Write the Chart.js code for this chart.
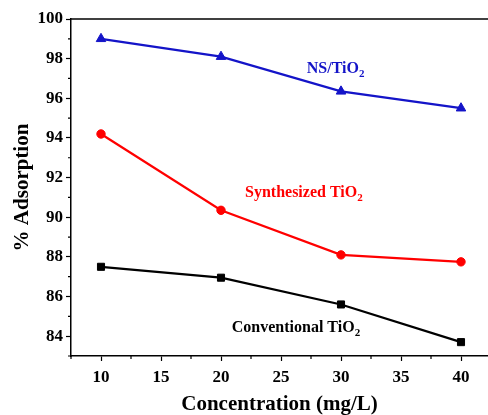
<!DOCTYPE html>
<html><head><meta charset="utf-8">
<script src="https://cdn.jsdelivr.net/npm/chart.js@4/dist/chart.umd.min.js"></script>
<style>html,body{margin:0;padding:0;background:#fff;overflow:hidden}#wrap{width:488px;height:415px;position:relative}</style>
</head><body><div id="wrap"><canvas id="c" width="488" height="415"></canvas></div>
<script>
const concentrations = [10, 20, 30, 40];
const nsTiO2 = [99.0, 98.1, 96.35, 95.5];
const synthesizedTiO2 = [94.2, 90.35, 88.1, 87.75];
const conventionalTiO2 = [87.5, 86.95, 85.6, 83.7];
const xTickLabels = [10, 15, 20, 25, 30, 35, 40];
const yTickLabels = [84, 86, 88, 90, 92, 94, 96, 98, 100];
const xMinorTicks = [7.5, 12.5, 17.5, 22.5, 27.5, 32.5, 37.5, 42.5];
const yMinorTicks = [83, 85, 87, 89, 91, 93, 95, 97, 99];
const seriesNames = ['NS/TiO', 'Synthesized TiO', 'Conventional TiO'];
const labelPos = [[27.15, 97.27], [22.0, 91.0], [20.9, 84.2]];

const FONT = '"Liberation Serif", "Times New Roman", serif';
const pts = arr => concentrations.map((x, i) => ({x, y: arr[i]}));

const extras = {
  id: 'extras',
  afterDraw(chart) {
    const {ctx, chartArea: a, scales: {x, y}} = chart;
    ctx.save();
    ctx.strokeStyle = '#000';
    ctx.lineWidth = 1.5;
    ctx.beginPath();
    ctx.moveTo(a.left, a.top); ctx.lineTo(a.right, a.top);
    ctx.stroke();
    ctx.lineWidth = 1.2;
    ctx.beginPath();
    xMinorTicks.forEach(v => { if (v >= x.min && v <= x.max) { const px = x.getPixelForValue(v); ctx.moveTo(px, a.bottom); ctx.lineTo(px, a.bottom + 3); } });
    yMinorTicks.forEach(v => { const py = y.getPixelForValue(v); ctx.moveTo(a.left, py); ctx.lineTo(a.left - 3, py); });
    ctx.stroke();
    const colors = ['#1414c8', '#ff0000', '#000000'];
    seriesNames.forEach((t, i) => {
      const px = x.getPixelForValue(labelPos[i][0]);
      const py = y.getPixelForValue(labelPos[i][1]);
      ctx.fillStyle = colors[i];
      ctx.font = 'bold 16px ' + FONT;
      ctx.textAlign = 'left'; ctx.textBaseline = 'alphabetic';
      ctx.fillText(t, px, py);
      const w = ctx.measureText(t).width;
      ctx.font = 'bold 11px ' + FONT;
      ctx.fillText('2', px + w, py + 4);
    });
    ctx.restore();
  }
};

new Chart(document.getElementById('c'), {
  type: 'line',
  data: {
    datasets: [
      {label: 'NS/TiO2', data: pts(nsTiO2), borderColor: '#1414c8', backgroundColor: '#1414c8', pointStyle: 'triangle', pointRadius: 5.5, pointBorderWidth: 1, borderWidth: 2.2},
      {label: 'Synthesized TiO2', data: pts(synthesizedTiO2), borderColor: '#ff0000', backgroundColor: '#ff0000', pointStyle: 'circle', pointRadius: 4.2, pointBorderWidth: 1, borderWidth: 2.2},
      {label: 'Conventional TiO2', data: pts(conventionalTiO2), borderColor: '#000', backgroundColor: '#000', pointStyle: 'rect', pointRadius: 5, pointBorderWidth: 1, borderWidth: 2.2}
    ]
  },
  options: {
    responsive: false, animation: false, clip: false,
    layout: {autoPadding: false, padding: {top: 19, right: 0, left: 0, bottom: 0}},
    plugins: {legend: {display: false}, tooltip: {enabled: false}},
    scales: {
      x: {
        type: 'linear', min: 7.5, max: 42.25,
        afterBuildTicks: s => { s.ticks = xTickLabels.map(v => ({value: v})); },
        afterFit: s => { s.height = 59; },
        border: {color: '#000', width: 1.5},
        grid: {drawOnChartArea: false, tickLength: 5, tickColor: '#000', tickWidth: 1.2},
        ticks: {color: '#000', font: {family: FONT, size: 17, weight: 'bold'}, padding: 6, maxRotation: 0},
        title: {display: true, text: 'Concentration (mg/L)', color: '#000', font: {family: FONT, size: 21, weight: 'bold', lineHeight: 1}, padding: {top: 6, bottom: 0}}
      },
      y: {
        min: 83, max: 100,
        afterBuildTicks: s => { s.ticks = yTickLabels.map(v => ({value: v})); },
        afterFit: s => { s.width = 71; },
        border: {color: '#000', width: 1.5},
        grid: {drawOnChartArea: false, tickLength: 5, tickColor: '#000', tickWidth: 1.2},
        ticks: {color: '#000', font: {family: FONT, size: 17, weight: 'bold'}, padding: 3},
        title: {display: true, text: '% Adsorption', color: '#000', font: {family: FONT, size: 21, weight: 'bold', lineHeight: 1}, padding: {top: 12, bottom: 0}}
      }
    }
  },
  plugins: [extras]
});
</script></body></html>
